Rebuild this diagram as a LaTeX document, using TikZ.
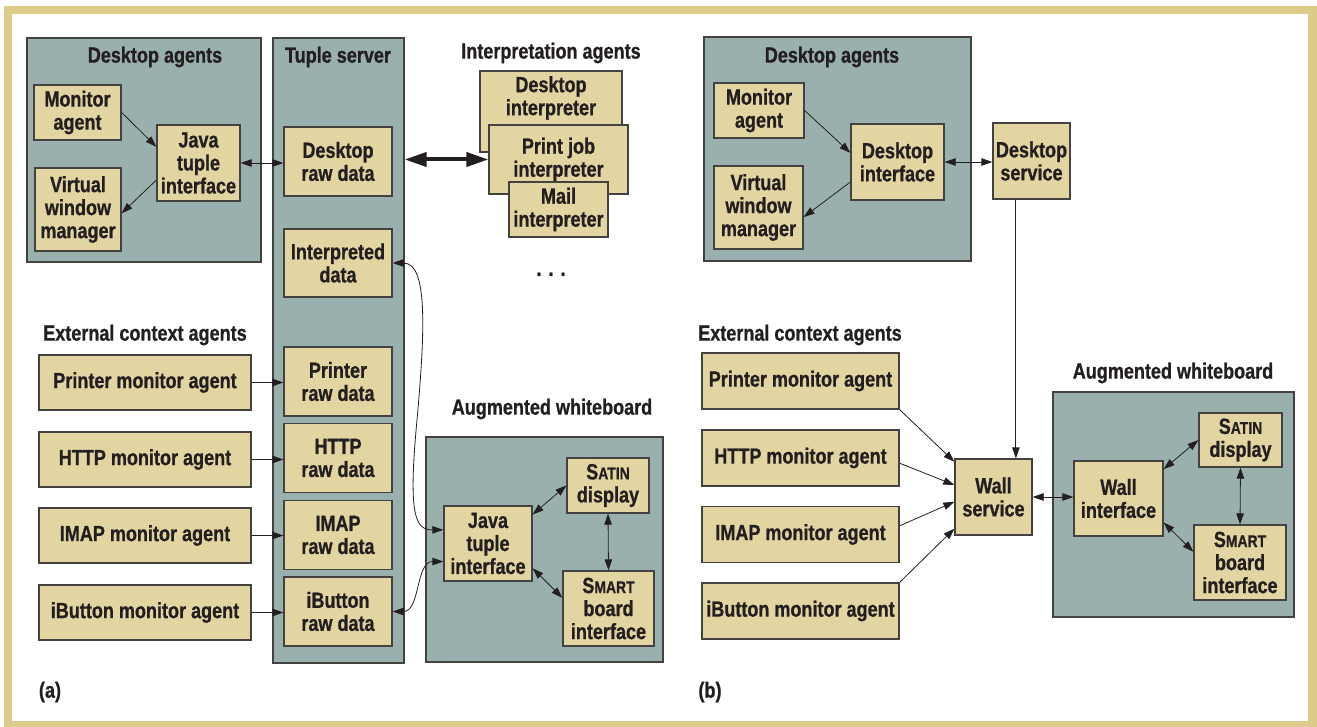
\documentclass[tikz,border=0pt]{standalone}
\usepackage{fontspec}
\setmainfont{Liberation Sans}[FakeStretch=0.82, BoldFeatures={FakeBold=0.8}]
\usetikzlibrary{arrows.meta}

\definecolor{boxtan}{HTML}{E3D5A1}
\definecolor{slate}{HTML}{9AB0AE}
\definecolor{frametan}{HTML}{DCCB8A}
\definecolor{ink}{HTML}{231F20}
\newcommand{\capsm}[1]{{\fontsize{17}{23}\selectfont #1}}

\tikzset{
  every node/.style={font=\bfseries\fontsize{22}{23}\selectfont, text=ink, align=center},
  sz/.style 2 args={minimum width=#1pt, minimum height=#2pt},
  panel/.style={draw=ink!85, line width=1.3pt, fill=slate, inner sep=0pt},
  agent/.style={draw=ink!85, line width=1.3pt, fill=boxtan, inner sep=0pt},
  ttl/.style={inner sep=0pt},
  arr/.style={-{Triangle[length=11pt,width=7.5pt]}, line width=0.8pt, draw=ink},
  dbl/.style={{Triangle[length=11pt,width=7.5pt]}-{Triangle[length=11pt,width=7.5pt]}, line width=0.8pt, draw=ink},
  bigarr/.style={{Triangle[length=22pt,width=14pt]}-{Triangle[length=22pt,width=14pt]}, line width=4pt, draw=ink}
}

\begin{document}
\begin{tikzpicture}[x=1pt,y=-1pt]
  \useasboundingbox (0,0) rectangle (1317,727);
  \draw[frametan, line width=8.5pt] (8,10) rectangle (1312.5,725);

  % (a) desktop agents
  \node[panel, sz={234}{224}] (dtA) at (144,150) {};
  \node[ttl] (dtAt) at (155,57) {Desktop agents};
  \node[agent, sz={87}{55}] (monA) at (77.5,112.5) {Monitor\\agent};
  \node[agent, sz={86}{83}] (vwmA) at (78,209.5) {Virtual\\window\\manager};
  \node[agent, sz={83}{76}] (jtiA) at (198.5,163) {Java\\tuple\\interface};

  % (a) tuple server
  \node[panel, sz={131}{625}] (ts) at (338.5,350.5) {};
  \node[ttl] (tst) at (338,57) {Tuple server};
  \node[agent, sz={108}{69}] (drd) at (338,161.5) {Desktop\\raw data};
  \node[agent, sz={108}{68}] (ird) at (338,263) {Interpreted\\data};
  \node[agent, sz={108}{69}] (prd) at (338,381.5) {Printer\\raw data};
  \node[agent, sz={108}{69}] (hrd) at (338,458) {HTTP\\raw data};
  \node[agent, sz={108}{69}] (mrd) at (338,535) {IMAP\\raw data};
  \node[agent, sz={108}{69}] (brd) at (338,611.5) {iButton\\raw data};

  % (a) interpretation agents
  \node[ttl] (iat) at (551,53) {Interpretation agents};
  \node[agent, sz={142}{81}] (dint) at (551,111.5) {};
  \node[ttl] (dintt) at (551,98) {Desktop\\interpreter};
  \node[agent, sz={139}{69}] (pji) at (558.5,159.5) {Print job\\interpreter};
  \node[agent, sz={99}{55}] (mi) at (558.5,209.5) {Mail\\interpreter};
  \node[ttl, anchor=base] (dots) at (551,276) {.\hspace{7pt}.\hspace{7pt}.};

  % (a) augmented whiteboard
  \node[ttl] (awAt) at (552,409) {Augmented whiteboard};
  \node[panel, sz={237}{225}] (awA) at (544.5,549.5) {};
  \node[agent, sz={88}{75}] (jtiB) at (488,543.5) {Java\\tuple\\interface};
  \node[agent, sz={82}{55}] (satA) at (608,485.5) {S\capsm{ATIN}\\display};
  \node[agent, sz={91}{75}] (smA) at (608.5,608.5) {S\capsm{MART}\\board\\interface};

  % (a) external context agents
  \node[ttl] (ecAt) at (145,335) {External context agents};
  \node[agent, sz={212}{55}] (pmA) at (145,382.5) {Printer monitor agent};
  \node[agent, sz={212}{55}] (hmA) at (145,459.5) {HTTP monitor agent};
  \node[agent, sz={212}{55}] (imA) at (145,535.5) {IMAP monitor agent};
  \node[agent, sz={212}{55}] (bmA) at (145,612.5) {iButton monitor agent};

  \draw[arr] (monA.east) -- (jtiA.159);
  \draw[arr] (jtiA.202) -- (vwmA.-5);
  \draw[dbl] (jtiA.east) -- (jtiA.east -| drd.west);
  \draw[bigarr] (ts.east |- pji.west) -- (pji.west);
  \draw[arr] (pmA.east) -- (pmA.east -| prd.west);
  \draw[arr] (hmA.east) -- (hmA.east -| hrd.west);
  \draw[arr] (imA.east) -- (imA.east -| mrd.west);
  \draw[arr] (bmA.east) -- (bmA.east -| brd.west);
  \draw[dbl] (ird.east) .. controls (428,263) and (425,330) .. (417,420)
             .. controls (408,515) and (415,530) .. (jtiB.163);
  \draw[dbl] (brd.east) to[out=0,in=180] (jtiB.202);
  \draw[dbl] (jtiB.33) -- (satA.west);
  \draw[dbl] (jtiB.-29) -- (smA.167);
  \draw[dbl] (satA.south) -- (smA.north);

  \node[ttl] (la) at (50,692) {(a)};

  % (b) desktop agents
  \node[panel, sz={267}{224}] (dtB) at (837.5,149) {};
  \node[ttl] (dtBt) at (832,57) {Desktop agents};
  \node[agent, sz={90}{55}] (monB) at (759,110.5) {Monitor\\agent};
  \node[agent, sz={89}{83}] (vwmB) at (758.5,207.5) {Virtual\\window\\manager};
  \node[agent, sz={93}{76}] (dif) at (897.5,162) {Desktop\\interface};
  \node[agent, sz={77}{76}] (dsv) at (1031.5,161) {Desktop\\service};

  % (b) external context agents
  \node[ttl] (ecBt) at (800,335) {External context agents};
  \node[agent, sz={197}{56}] (pmB) at (800.5,381) {Printer monitor agent};
  \node[agent, sz={197}{56}] (hmB) at (800.5,458) {HTTP monitor agent};
  \node[agent, sz={197}{56}] (imB) at (800.5,534.5) {IMAP monitor agent};
  \node[agent, sz={197}{56}] (bmB) at (800.5,611) {iButton monitor agent};
  \node[agent, sz={77}{76}] (wsv) at (993.5,497) {Wall\\service};

  % (b) augmented whiteboard
  \node[ttl] (awBt) at (1173,373) {Augmented whiteboard};
  \node[panel, sz={241}{225}] (awB) at (1173.5,504.5) {};
  \node[agent, sz={89}{75}] (wif) at (1118.5,498.5) {Wall\\interface};
  \node[agent, sz={83}{54}] (satB) at (1240.5,440) {S\capsm{ATIN}\\display};
  \node[agent, sz={92}{75}] (smB) at (1240,562.5) {S\capsm{MART}\\board\\interface};

  \draw[arr] (monB.east) -- (dif.169);
  \draw[arr] (dif.203) -- (vwmB.-12);
  \draw[dbl] (dif.east) -- (dif.east -| dsv.west);
  \draw[arr] (dsv.248) -- (dsv.248 |- wsv.north);
  \draw[arr] (pmB.south east) -- (wsv.138);
  \draw[arr] (hmB.-3) -- (wsv.163);
  \draw[arr] (imB.5) -- (wsv.187);
  \draw[arr] (bmB.north east) -- (wsv.219);
  \draw[dbl] (wsv.east) -- (wsv.east -| wif.west);
  \draw[dbl] (wif.33) -- (satB.west);
  \draw[dbl] (wif.-28) -- (smB.167);
  \draw[dbl] (satB.south) -- (smB.north);

  \node[ttl] (lb) at (710,692) {(b)};
\end{tikzpicture}
\end{document}
